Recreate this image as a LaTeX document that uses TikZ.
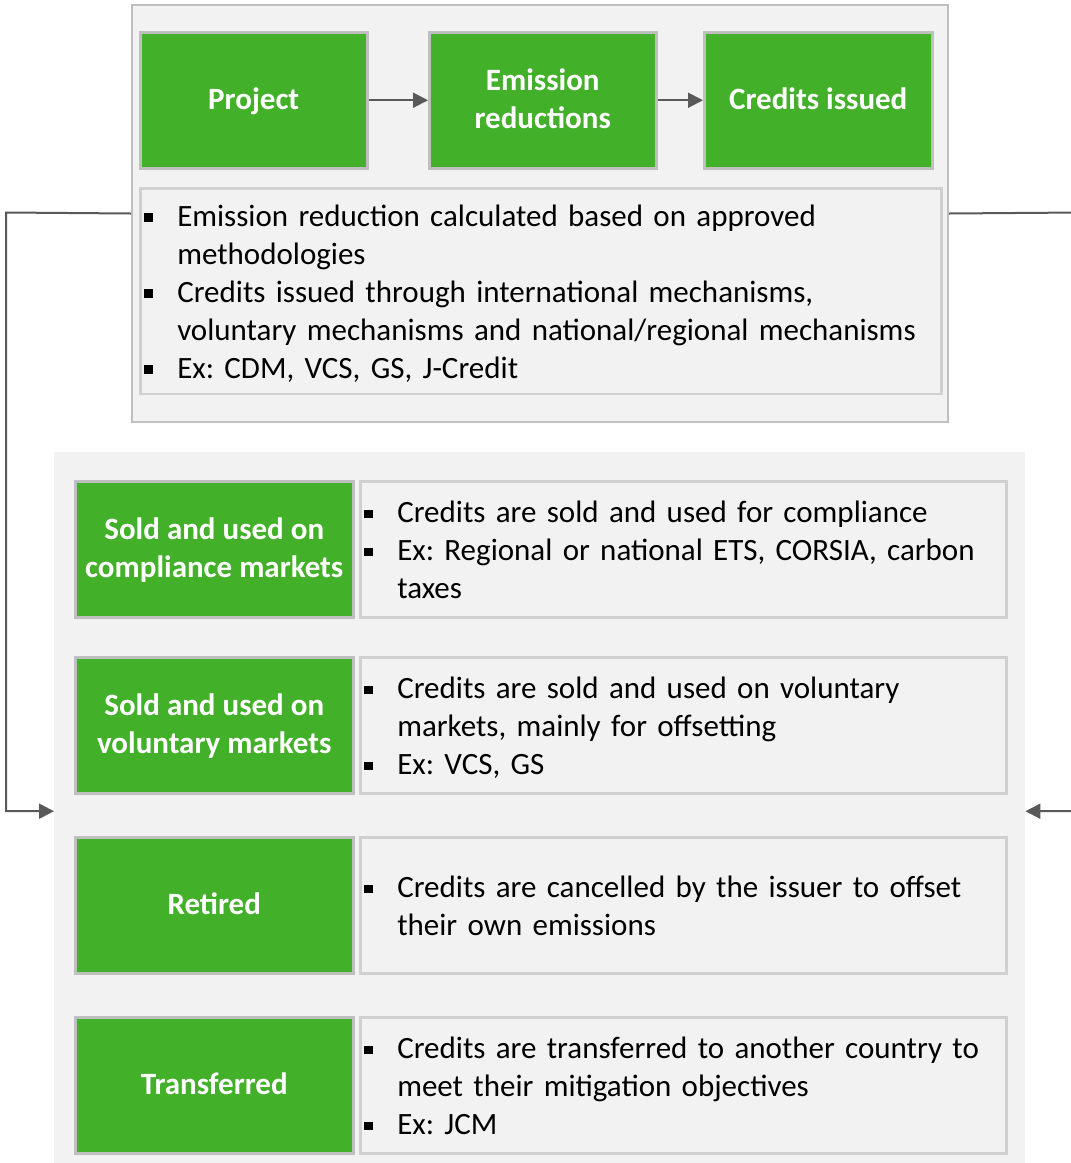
\documentclass[tikz,border=0pt]{standalone}
\usepackage{fontspec}
\setmainfont{Carlito}
\usetikzlibrary{arrows.meta}

\definecolor{leaf}{HTML}{43B02A}
\definecolor{panel}{HTML}{F2F2F2}
\definecolor{rim}{HTML}{BFBFBF}
\definecolor{rimlight}{HTML}{D0D0D0}
\definecolor{wire}{HTML}{595959}

% line boxes of 38pt for the headings and for the bullet texts
\newcommand\lstrut{\rule[-9.3pt]{0pt}{38pt}}
\newcommand\nstrut{\rule[-15.5pt]{0pt}{38pt}}
% hanging bullet with a small black square
\newlength\bulletind
\setlength\bulletind{33pt}
\newcommand\bitem{\par\noindent\hangindent=\bulletind\hangafter=1%
  \makebox[\bulletind][l]{\nstrut\rule[4.5pt]{8.5pt}{8.5pt}}}

\tikzset{
  frame/.style={draw=rim, line width=2pt, fill=panel, anchor=north west,
    inner sep=0pt},
  stage/.style={draw=rim, line width=2.5pt, fill=leaf, anchor=north west,
    inner sep=0pt, text=white, align=center,
    font=\bfseries\fontsize{31}{38}\selectfont},
  note/.style={draw=rimlight, line width=2.5pt, fill=panel, anchor=north west,
    inner xsep=4pt, inner ysep=0pt,
    font=\fontsize{31}{38}\selectfont\frenchspacing},
  flow/.style={draw=wire, line width=2pt,
    -{Triangle[length=15pt,width=15pt]}},
}

\begin{document}
\begin{tikzpicture}[x=1pt,y=-1pt]
\useasboundingbox (0,0) rectangle (1071,1163);

% issuance block
\node[frame, minimum width=816pt, minimum height=417pt] (top) at (131,4) {};
\node[stage, minimum width=227pt, minimum height=136pt] (proj) at (139,31) {\lstrut Project};
\node[stage, minimum width=227pt, minimum height=136pt] (emis) at (428,31) {\lstrut Emission\\\lstrut reductions};
\node[stage, minimum width=228pt, minimum height=136pt] (cred) at (703,31) {\lstrut Credits issued};
\node[note, minimum width=801pt, minimum height=204pt, text width=793pt] (desc) at (139,187) {\raggedright
  \bitem Emission reduction calculated based on approved\newline methodologies
  \bitem Credits issued through international mechanisms,\newline voluntary mechanisms and national/regional mechanisms
  \bitem Ex: CDM, VCS, GS, J-Credit\nstrut\par};

\draw[flow] (proj.east) -- (emis.west);
\draw[flow] (emis.east) -- (cred.west);

% uses block
\node[fill=panel, anchor=north west, inner sep=0pt, minimum width=971pt, minimum height=718pt] (uses) at (54,452) {};

\node[stage, minimum width=278pt, minimum height=136pt] (comp) at (74,480) {\lstrut Sold and used on\\\lstrut compliance markets};
\node[note, minimum width=646pt, minimum height=136pt, text width=638pt] (compd) at (359,480) {\raggedright
  \bitem Credits are sold and used for compliance
  \bitem Ex: Regional or national ETS, CORSIA, carbon\newline taxes\nstrut\par};

\node[stage, minimum width=278pt, minimum height=136pt] (volu) at (74,656) {\lstrut Sold and used on\\\lstrut voluntary markets};
\node[note, minimum width=646pt, minimum height=136pt, text width=638pt] (volud) at (359,656) {\raggedright
  \bitem Credits are sold and used on voluntary\newline markets, mainly for offsetting
  \bitem Ex: VCS, GS\nstrut\par};

\node[stage, minimum width=278pt, minimum height=136pt] (reti) at (74,836) {\lstrut Retired};
\node[note, minimum width=646pt, minimum height=136pt, text width=638pt] (retid) at (359,836) {\raggedright
  \bitem Credits are cancelled by the issuer to offset\newline their own emissions\nstrut\par};

\node[stage, minimum width=278pt, minimum height=136pt] (tran) at (74,1016) {\lstrut Transferred};
\node[note, minimum width=646pt, minimum height=136pt, text width=638pt] (trand) at (359,1016) {\raggedright
  \bitem Credits are transferred to another country to\newline meet their mitigation objectives
  \bitem Ex: JCM\nstrut\par};

% loops from issuance down to uses
\coordinate (railL) at (6,212.5);
\coordinate (railR) at (1080,212.5);
\draw[flow] (top.west) -- (railL) |- (uses.west);
\draw[flow] (top.east) -- (railR) |- (uses.east);
\end{tikzpicture}
\end{document}
